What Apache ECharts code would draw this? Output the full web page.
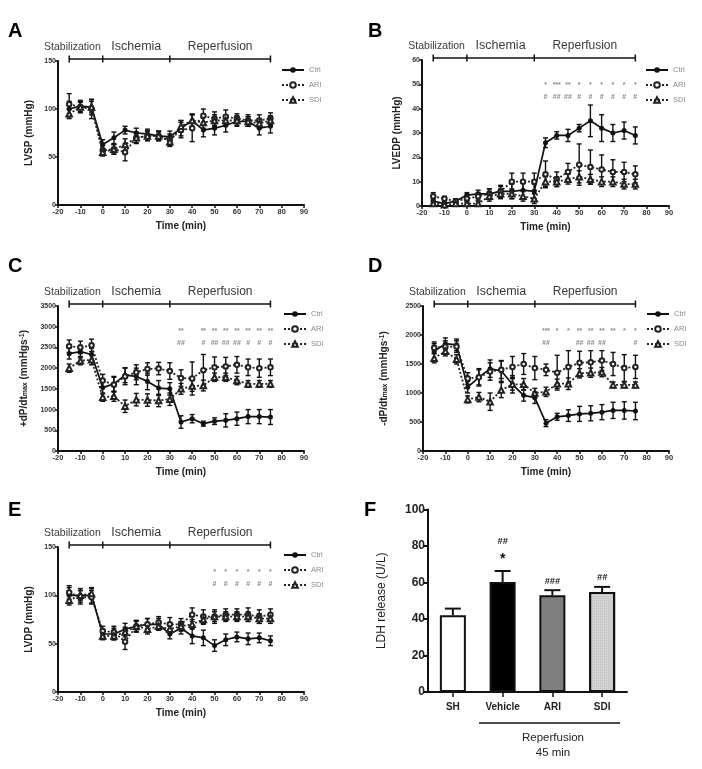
<!DOCTYPE html>
<html><head><meta charset="utf-8">
<script src="https://cdn.jsdelivr.net/npm/echarts@6/dist/echarts.min.js"></script>
<style>html,body{margin:0;padding:0;background:#fff}#c{width:702px;height:769px}</style>
</head><body><div id="c"></div>
<script>
// ---------------- DATA ----------------
const times = [-15,-10,-5,0,5,10,15,20,25,30,35,40,45,50,55,60,65,70,75];
const groups = ['Ctrl','ARI','SDI'];
const phaseBounds = [-15, 0, 30, 75];
const phaseNames = ['Stabilization','Ischemia','Reperfusion'];

// A: LVSP (mmHg)
const lvspCtrl    = [100,103,102,63,70,78,75,74,72,71,80,88,78,80,83,87,87,80,82];
const lvspCtrlErr = [8,6,8,5,6,4,5,5,5,6,8,7,7,7,7,5,5,7,7];
const lvspAri     = [105,102,100,57,58,55,70,72,72,68,78,80,93,90,92,90,88,88,90];
const lvspAriErr  = [11,6,10,5,5,9,6,5,5,6,8,14,7,7,7,5,6,6,6];
const lvspSdi     = [95,102,102,55,58,63,70,72,72,66,82,88,86,88,88,88,87,85,88];
const lvspSdiErr  = [5,5,6,4,5,6,5,5,4,5,6,6,6,6,6,5,5,5,5];

// B: LVEDP (mmHg)
const lvedpCtrl    = [2,1,2,4.5,5,5,6,6,6.5,6,26,29,29,32,35,32,30,31,29];
const lvedpCtrlErr = [1,1,1,1,1.5,2,2,3,3,3,2,1.5,2.5,1.5,6.5,5.5,3.5,3.5,3.5];
const lvedpAri     = [4,3,2,3,4,5,6,10,10,10,13,11,14,17,16,15,14,14,13];
const lvedpAriErr  = [1.5,1,1,1.5,1.5,2,2.5,3.5,3.5,3.5,5.5,3,3.5,8.5,7,6,5,4,3.5];
const lvedpSdi     = [1,0.5,1,1,1,4,5,5,4,3,10,10,11,12,11,10,10,9,9];
const lvedpSdiErr  = [1,1,1,1,1,2,2,2,2,2,2,2,2,2.5,2,2,2,2,2];
const lvedpStarTimes = [35,40,45,50,55,60,65,70,75];
const lvedpStars     = ['*','***','**','*','*','*','*','*','*'];
const lvedpHashTimes = [35,40,45,50,55,60,65,70,75];
const lvedpHashes    = ['#','##','##','#','#','#','#','#','#'];

// C: +dP/dt max (mmHg s-1)
const dpPosCtrl    = [2350,2400,2330,1530,1620,1830,1800,1680,1520,1500,700,780,660,720,740,780,830,830,820];
const dpPosCtrlErr = [130,150,150,150,180,180,200,200,180,150,150,100,60,80,160,160,170,170,180];
const dpPosAri     = [2530,2500,2550,1700,1600,1800,1900,1980,1990,1930,1760,1750,1950,2020,2040,2080,2020,2000,2020];
const dpPosAriErr  = [150,150,150,150,180,200,180,150,150,200,200,400,380,250,220,200,200,220,200];
const dpPosSdi     = [2000,2180,2200,1300,1320,1080,1240,1230,1220,1250,1500,1570,1580,1780,1780,1700,1620,1620,1620];
const dpPosSdiErr  = [100,100,120,100,120,150,150,150,150,150,130,130,130,100,100,100,80,80,80];
const dpPosStarTimes = [35,45,50,55,60,65,70,75];
const dpPosStars     = ['**','**','**','**','**','**','**','**'];
const dpPosHashTimes = [35,45,50,55,60,65,70,75];
const dpPosHashes    = ['##','#','##','##','##','#','#','#'];

// D: -dP/dt max (mmHg s-1)
const dpNegCtrl    = [1720,1850,1830,1100,1270,1420,1380,1150,960,920,480,590,610,640,650,670,700,700,690];
const dpNegCtrlErr = [130,100,100,100,130,150,180,150,100,100,60,60,100,130,130,130,140,150,150];
const dpNegAri     = [1780,1800,1800,1250,1270,1370,1400,1450,1500,1430,1400,1350,1450,1520,1530,1560,1500,1430,1450];
const dpNegAriErr  = [100,100,100,100,150,150,150,180,180,200,100,300,280,200,200,170,200,230,200];
const dpNegSdi     = [1600,1720,1580,890,930,850,1050,1150,1150,1000,1020,1160,1160,1340,1350,1360,1140,1140,1140];
const dpNegSdiErr  = [80,80,80,60,80,150,130,100,100,80,80,80,100,80,80,80,50,50,50];
const dpNegStarTimes = [35,40,45,50,55,60,65,70,75];
const dpNegStars     = ['***','*','*','**','**','**','**','*','*'];
const dpNegHashTimes = [35,50,55,60,75];
const dpNegHashes    = ['##','##','##','##','#'];

// E: LVDP (mmHg)
const lvdpCtrl    = [100,100,100,60,60,65,68,70,70,60,66,58,56,48,54,57,55,56,53];
const lvdpCtrlErr = [8,7,8,5,6,6,6,6,6,5,6,8,8,6,6,5,6,5,5];
const lvdpAri     = [103,98,98,63,62,52,68,70,72,70,70,80,78,78,80,80,80,78,80];
const lvdpAriErr  = [7,7,7,5,6,8,6,6,6,7,6,7,7,7,6,6,7,7,6];
const lvdpSdi     = [95,100,102,58,58,62,68,65,68,65,68,70,75,78,78,78,78,76,76];
const lvdpSdiErr  = [5,5,5,4,4,5,5,5,4,4,5,5,5,5,5,5,5,5,5];
const lvdpStarTimes = [50,55,60,65,70,75];
const lvdpStars     = ['*','*','*','*','*','*'];
const lvdpHashTimes = [50,55,60,65,70,75];
const lvdpHashes    = ['#','#','#','#','#','#'];

// F: LDH release (U/L)
const ldhCats  = ['SH','Vehicle','ARI','SDI'];
const ldhMean  = [42,60.3,53,54.8];
const ldhErr   = [3.7,6,2.8,2.8];
const ldhStars = ['','*','',''];
const ldhHashes= ['','##','###','##'];

// ---------------- STYLE / LAYOUT ----------------
const FONT = "'Liberation Sans', Arial, Helvetica, sans-serif";
const INK = '#111';
const groupStyle = {
  Ctrl: {symbol:'circle', symbolSize:5, lineStyle:{type:'solid', width:1.7, color:INK}, itemStyle:{color:INK}},
  ARI:  {symbol:'emptyCircle', symbolSize:4.5, lineStyle:{type:[2,2], width:1.8, color:'#222'}, itemStyle:{color:'#222', borderWidth:1.4}},
  SDI:  {symbol:'emptyTriangle', symbolSize:5.5, lineStyle:{type:[2,2], width:1.8, color:'#222'}, itemStyle:{color:'#222', borderWidth:1.4}}
};

const panels = [
  {grid:{left:58, top:61, width:246, height:144}, ymax:150, yint:50, yname:'LVSP (mmHg)', nameGap:24,
   legend:[281,66], vals:[lvspCtrl,lvspAri,lvspSdi], errs:[lvspCtrlErr,lvspAriErr,lvspSdiErr]},
  {grid:{left:422, top:60, width:247, height:146}, ymax:60, yint:10, yname:'LVEDP (mmHg)', nameGap:20,
   legend:[645,66], vals:[lvedpCtrl,lvedpAri,lvedpSdi], errs:[lvedpCtrlErr,lvedpAriErr,lvedpSdiErr],
   stars:[lvedpStarTimes,lvedpStars], hashes:[lvedpHashTimes,lvedpHashes]},
  {grid:{left:58, top:306, width:246, height:145}, ymax:3500, yint:500, yname:'+dP/dt{sub|max} (mmHgs{sup|-1})', nameGap:29,
   legend:[283,310], vals:[dpPosCtrl,dpPosAri,dpPosSdi], errs:[dpPosCtrlErr,dpPosAriErr,dpPosSdiErr],
   stars:[dpPosStarTimes,dpPosStars], hashes:[dpPosHashTimes,dpPosHashes]},
  {grid:{left:423, top:306, width:246, height:145}, ymax:2500, yint:500, yname:'-dP/dt{sub|max} (mmHgs{sup|-1})', nameGap:34,
   legend:[646,310], vals:[dpNegCtrl,dpNegAri,dpNegSdi], errs:[dpNegCtrlErr,dpNegAriErr,dpNegSdiErr],
   stars:[dpNegStarTimes,dpNegStars], hashes:[dpNegHashTimes,dpNegHashes]},
  {grid:{left:58, top:547, width:246, height:145}, ymax:150, yint:50, yname:'LVDP (mmHg)', nameGap:24,
   legend:[283,551], vals:[lvdpCtrl,lvdpAri,lvdpSdi], errs:[lvdpCtrlErr,lvdpAriErr,lvdpSdiErr],
   stars:[lvdpStarTimes,lvdpStars], hashes:[lvdpHashTimes,lvdpHashes]}
];

const grids=[], xAxes=[], yAxes=[], series=[], legends=[];

function errSeries(i, xs, vals, errs, cap, upOnly, lw) {
  return {type:'custom', xAxisIndex:i, yAxisIndex:i, silent:true, z:1, clip:false,
    data: vals.map((v,k)=>[xs[k], v, errs[k]]),
    renderItem:(params, api)=>{
      const x=api.value(0), y=api.value(1), e=api.value(2);
      const hi=api.coord([x,y+e]); const lo=api.coord([x, upOnly? y : y-e]);
      const style={stroke:INK, lineWidth:lw};
      const ch=[{type:'line', shape:{x1:hi[0],y1:hi[1],x2:lo[0],y2:lo[1]}, style},
                {type:'line', shape:{x1:hi[0]-cap,y1:hi[1],x2:hi[0]+cap,y2:hi[1]}, style}];
      if(!upOnly) ch.push({type:'line', shape:{x1:lo[0]-cap,y1:lo[1],x2:lo[0]+cap,y2:lo[1]}, style});
      return {type:'group', children:ch};
    }};
}
function textSeries(i, xs, level, texts, styleFn) {
  return {type:'custom', xAxisIndex:i, yAxisIndex:i, silent:true, z:5, clip:false,
    data: xs.map(x=>[x, level]),
    renderItem:(params, api)=>{
      const pt=api.coord([api.value(0), api.value(1)]);
      return Object.assign({type:'text', x:pt[0], y:pt[1]}, styleFn(texts[params.dataIndex], params.dataIndex));
    }};
}

panels.forEach((p,i)=>{
  grids.push(Object.assign({outerBoundsMode:'none', containLabel:false}, p.grid));
  xAxes.push({type:'value', gridIndex:i, min:-20, max:90, interval:10,
    name:'Time (min)', nameLocation:'middle', nameGap:16,
    nameTextStyle:{fontFamily:FONT, fontSize:10, fontWeight:'bold', color:'#222'},
    axisLine:{onZero:false, lineStyle:{color:INK, width:2}},
    axisTick:{show:true, length:3, lineStyle:{color:INK, width:1.5}},
    axisLabel:{fontFamily:FONT, fontSize:7.5, fontWeight:'bold', color:'#333', margin:3},
    splitLine:{show:false}});
  yAxes.push({type:'value', gridIndex:i, min:0, max:p.ymax, interval:p.yint,
    name:p.yname, nameLocation:'middle', nameGap:p.nameGap, nameRotate:90,
    nameTextStyle:{fontFamily:FONT, fontSize:10, fontWeight:'bold', color:'#222',
      rich:{sub:{fontFamily:FONT, fontSize:7, fontWeight:'bold', color:'#222', verticalAlign:'bottom', padding:[3,0,0,0]},
            sup:{fontFamily:FONT, fontSize:7, fontWeight:'bold', color:'#222', verticalAlign:'top', padding:[0,0,3,0]}}},
    axisLine:{show:true, onZero:false, lineStyle:{color:INK, width:2}},
    axisTick:{show:true, length:3, lineStyle:{color:INK, width:1.5}},
    axisLabel:{fontFamily:FONT, fontSize:7, fontWeight:'bold', color:'#333', margin:2, formatter:(v)=>String(v)},
    splitLine:{show:false}});

  // phase bar
  series.push({type:'custom', xAxisIndex:i, yAxisIndex:i, silent:true, clip:false, z:3,
    data: phaseBounds.map(b=>[b, p.ymax]),
    renderItem:(params, api)=>{
      const k=params.dataIndex;
      const a=api.coord([api.value(0), api.value(1)]); const y=a[1]-2;
      const st={stroke:INK, lineWidth:1.5};
      const ch=[{type:'line', shape:{x1:a[0],y1:y-3.5,x2:a[0],y2:y+3.5}, style:st}];
      if(k<phaseBounds.length-1){
        const b=api.coord([phaseBounds[k+1], p.ymax]);
        ch.push({type:'line', shape:{x1:a[0],y1:y,x2:b[0],y2:y}, style:st});
        const name=phaseNames[k];
        let tx, align, fs;
        if(k===0){ tx=b[0]-2; align='right'; fs=10.5; }
        else { tx=(a[0]+b[0])/2; align='center'; fs = (k===1?12.5:12); }
        ch.push({type:'text', x:tx, y:y-12, style:{text:name, align:align, verticalAlign:'middle',
          fontFamily:FONT, fontSize:fs, fill:'#3a3a3a'}});
      }
      return {type:'group', children:ch};
    }});

  groups.forEach((g,gi)=>{
    series.push(errSeries(i, times, p.vals[gi], p.errs[gi], 2.5, false, 1.4));
  });
  groups.forEach((g,gi)=>{
    const s=groupStyle[g];
    series.push({type:'line', name:g, xAxisIndex:i, yAxisIndex:i, z:4,
      data: times.map((t,k)=>[t, p.vals[gi][k]]),
      symbol:s.symbol, symbolSize:s.symbolSize, lineStyle:s.lineStyle, itemStyle:s.itemStyle,
      emphasis:{disabled:true}, animation:false});
  });
  const annStyle=(txt)=>({style:{text:txt, align:'center', verticalAlign:'middle', fontFamily:FONT, fontSize:7, fontWeight:'bold', fill:'#8a8a8a'}});
  if(p.stars) series.push(textSeries(i, p.stars[0], p.ymax*0.83, p.stars[1], annStyle));
  if(p.hashes) series.push(textSeries(i, p.hashes[0], p.ymax*0.745, p.hashes[1], annStyle));

  legends.push({left:p.legend[0], top:p.legend[1], orient:'vertical', padding:0,
    itemWidth:22, itemHeight:7, itemGap:7, selectedMode:false, data:groups,
    textStyle:{fontFamily:FONT, fontSize:7.5, color:'#8a8a8a'}});
});

// Panel F
const fi = panels.length;
grids.push({left:428, top:509.5, width:199, height:182.5, outerBoundsMode:'none', containLabel:false});
xAxes.push({type:'category', gridIndex:fi, data:ldhCats,
  axisLine:{lineStyle:{color:INK, width:2}},
  axisTick:{show:true, alignWithLabel:true, length:5, lineStyle:{color:INK, width:1.5}},
  axisLabel:{fontFamily:FONT, fontSize:10, fontWeight:'bold', color:'#222', margin:10}});
yAxes.push({type:'value', gridIndex:fi, min:0, max:100, interval:20,
  name:'LDH release (U/L)', nameLocation:'middle', nameGap:40, nameRotate:90,
  nameTextStyle:{fontFamily:FONT, fontSize:12, color:'#222'},
  axisLine:{show:true, lineStyle:{color:INK, width:2}},
  axisTick:{show:true, length:5, lineStyle:{color:INK, width:2}},
  axisLabel:{fontFamily:FONT, fontSize:12, fontWeight:'bold', color:'#222', margin:3},
  splitLine:{show:false}});
const barColors=['#ffffff','#000000','#7f7f7f','#d2d2d2'];
series.push({type:'bar', xAxisIndex:fi, yAxisIndex:fi, barWidth:26, z:2, animation:false,
  data: ldhMean.map((v,k)=>({value:v, itemStyle:{color:barColors[k], borderColor:INK, borderWidth:2,
    decal: k===3 ? {symbol:'rect', symbolSize:0.6, color:'rgba(0,0,0,0.25)', dashArrayX:[1,1], dashArrayY:[1,1]} : undefined}}))});
series.push(errSeries(fi, ldhCats.map((c,k)=>k), ldhMean, ldhErr, 8, true, 2));
const ldhTop = ldhMean.map((v,k)=>v+ldhErr[k]);
series.push({type:'custom', xAxisIndex:fi, yAxisIndex:fi, silent:true, clip:false, z:5,
  data: ldhTop.map((v,k)=>[k, v]),
  renderItem:(params, api)=>{
    const k=params.dataIndex; const pt=api.coord([api.value(0), api.value(1)]);
    const ch=[]; let y=pt[1]-2;
    if(ldhStars[k]){ ch.push({type:'text', x:pt[0], y:y-10, style:{text:ldhStars[k], align:'center', verticalAlign:'middle', fontFamily:FONT, fontSize:14, fontWeight:'bold', fill:'#111'}}); y-=20; }
    if(ldhHashes[k]){ ch.push({type:'text', x:pt[0], y:y-7, style:{text:ldhHashes[k], align:'center', verticalAlign:'middle', fontFamily:FONT, fontSize:9, fontWeight:'bold', fontStyle:'italic', fill:'#111'}}); }
    return {type:'group', children:ch};
  }});

const letter=(t,x,y)=>({type:'text', left:x, top:y, style:{text:t, fontFamily:FONT, fontSize:20, fontWeight:'bold', fill:'#000'}});
const graphic=[
  letter('A',8,21), letter('B',368,21), letter('C',8,256), letter('D',368,256), letter('E',8,500), letter('F',364,500),
  {type:'line', shape:{x1:479,y1:723,x2:620,y2:723}, style:{stroke:INK, lineWidth:1.5}},
  {type:'text', x:553, y:738, style:{text:'Reperfusion', align:'center', verticalAlign:'middle', fontFamily:FONT, fontSize:11.5, fill:'#222'}},
  {type:'text', x:553, y:753, style:{text:'45 min', align:'center', verticalAlign:'middle', fontFamily:FONT, fontSize:11.5, fill:'#222'}}
];

const chart = echarts.init(document.getElementById('c'));
chart.setOption({animation:false, backgroundColor:'#fff', grid:grids, xAxis:xAxes, yAxis:yAxes,
  legend:legends, series:series, graphic:graphic});
</script></body></html>
